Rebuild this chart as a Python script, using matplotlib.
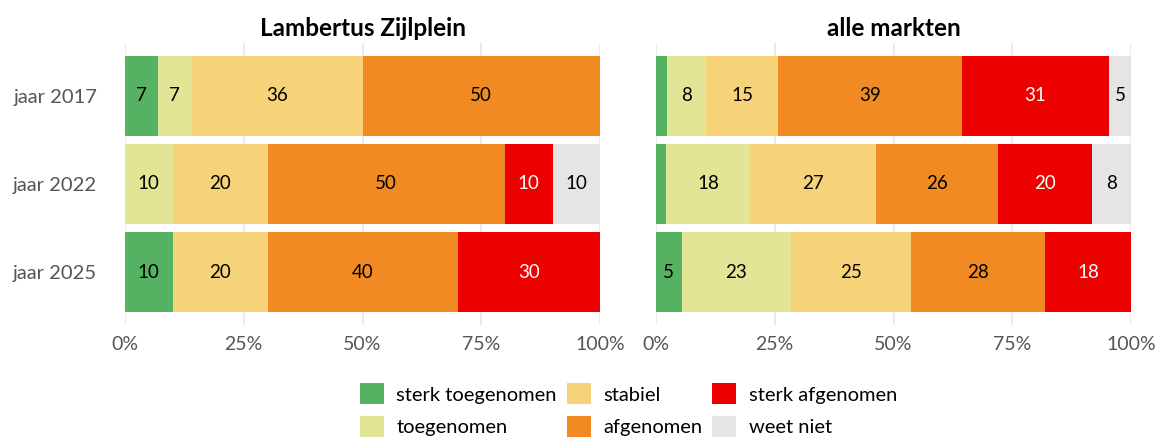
import matplotlib
matplotlib.use("Agg")
import matplotlib.pyplot as plt
from matplotlib.patches import Patch
import numpy as np

plt.rcParams['font.family'] = ['Lato', 'DejaVu Sans']

years = ["jaar 2017", "jaar 2022", "jaar 2025"]
categories = ["sterk toegenomen", "toegenomen", "stabiel", "afgenomen", "sterk afgenomen", "weet niet"]
colors = ["#55b262", "#e1e595", "#f6d278", "#f18a22", "#ec0000", "#e5e5e5"]
text_colors = ["black", "black", "black", "black", "white", "black"]

# rows: years; columns: categories
lambertus = [
    [7, 7, 36, 50, 0, 0],
    [0, 10, 20, 50, 10, 10],
    [10, 0, 20, 40, 30, 0],
]
alle_markten = [
    [2.3, 8.2, 15.2, 38.7, 31.0, 4.6],
    [2.1, 17.7, 26.6, 25.6, 19.8, 8.2],
    [5.4, 23.0, 25.3, 28.2, 18.1, 0],
]
titles = ["Lambertus Zijlplein", "alle markten"]
xticks = [0, 25, 50, 75, 100]
xticklabels = ["0%", "25%", "50%", "75%", "100%"]

fig = plt.figure(figsize=(11.66, 4.41), dpi=100)
ax_w = 475 / 1166
ax_b = 1 - 325 / 441
ax_h = (325 - 43) / 441
axes = [fig.add_axes([125 / 1166, ax_b, ax_w, ax_h]),
        fig.add_axes([656 / 1166, ax_b, ax_w, ax_h])]

for ax, data, title in zip(axes, [lambertus, alle_markten], titles):
    data = np.array(data, dtype=float)
    y = np.arange(len(years))
    left = np.zeros(len(years))
    for j, cat in enumerate(categories):
        vals = data[:, j]
        ax.barh(y, vals, left=left, height=0.9, color=colors[j], zorder=2)
        for i in range(len(years)):
            v = vals[i]
            if v >= 4:
                ax.text(left[i] + v / 2, y[i], f"{int(round(v))}", ha="center", va="center",
                        fontsize=13.5, color=text_colors[j], zorder=3)
        left += vals
    ax.set_xlim(0, 100)
    ax.set_ylim(2.6, -0.6)
    ax.set_xticks(xticks)
    ax.set_xticklabels(xticklabels, fontsize=14, color="#555555")
    ax.grid(axis="x", color="#ebebeb", linewidth=1.5, zorder=0)
    ax.set_axisbelow(True)
    for s in ax.spines.values():
        s.set_visible(False)
    ax.tick_params(length=0, pad=8)
    ax.set_title(title, fontsize=17.5, fontweight="bold", pad=5)
    ax.set_yticks(y)
    if ax is axes[0]:
        ax.set_yticklabels(years, fontsize=14.5, color="#555555")
        ax.tick_params(axis="y", pad=20)
    else:
        ax.set_yticklabels([])

handles = [Patch(facecolor=c, edgecolor="none") for c in colors]
fig.legend(handles, categories, loc="center", bbox_to_anchor=(0.539, 0.07), ncol=3,
           frameon=False, fontsize=14.5, handlelength=1.2, handleheight=1.2,
           handletextpad=0.6, columnspacing=0.5, labelspacing=0.6)

fig.savefig("out.png", dpi=100)
